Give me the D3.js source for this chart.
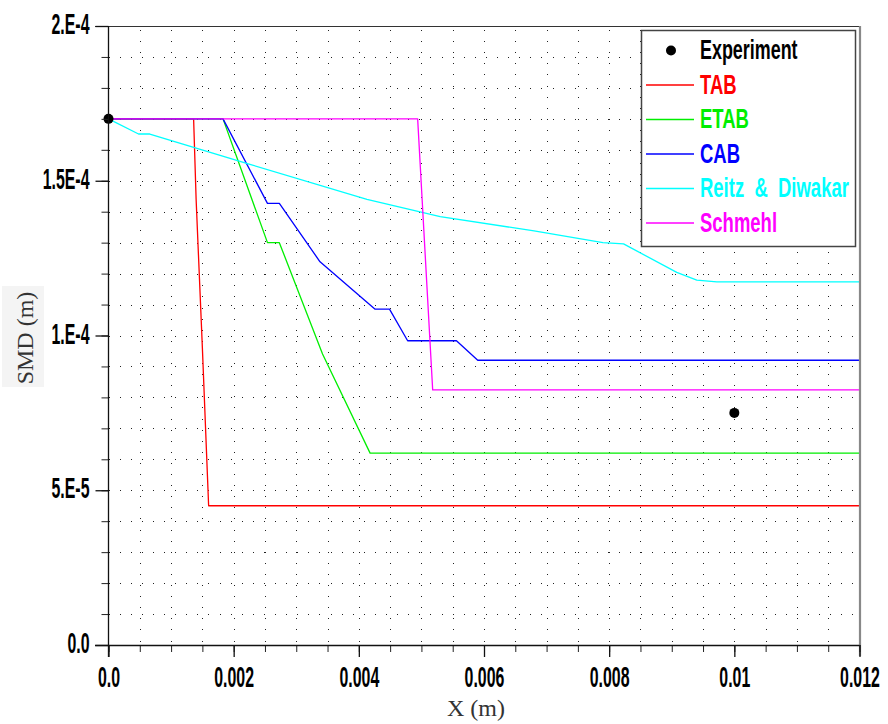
<!DOCTYPE html>
<html>
<head>
<meta charset="utf-8">
<script src="https://cdn.jsdelivr.net/npm/d3@7"></script>
<style>
  html, body { margin: 0; padding: 0; background: #fff; }
  svg { display: block; }
</style>
</head>
<body>
<svg id="chart" width="888" height="724"></svg>
<script>
// Axis ticks
const xMajor = [0, 0.002, 0.004, 0.006, 0.008, 0.01, 0.012];
const xTickLabels = ["0.0", "0.002", "0.004", "0.006", "0.008", "0.01", "0.012"];
const yMajor = [0, 5e-5, 1e-4, 1.5e-4, 2e-4];
const yTickLabels = ["0.0", "5.E-5", "1.E-4", "1.5E-4", "2.E-4"];
const xMinor = d3.range(0, 0.01201, 0.0005);
const yMinor = d3.range(0, 2.0001e-4, 1e-5);

// Measured droplet size
const experiment = [[0, 1.7e-4], [0.01, 7.5e-5]];

// Breakup model predictions: [X (m), SMD (m)]
const tab = [[0, 1.7e-4], [0.00136, 1.7e-4], [0.0014, 1.44e-4], [0.0015, 9.6e-5], [0.0016, 4.5e-5], [0.012, 4.5e-5]];
const etab = [[0, 1.7e-4], [0.00183, 1.7e-4], [0.00254, 1.3e-4], [0.00273, 1.3e-4], [0.00342, 9.4e-5], [0.00418, 6.2e-5], [0.012, 6.2e-5]];
const cab = [[0, 1.7e-4], [0.00183, 1.7e-4], [0.00254, 1.427e-4], [0.00273, 1.427e-4], [0.00338, 1.238e-4], [0.00426, 1.085e-4], [0.00449, 1.085e-4], [0.00478, 9.83e-5], [0.00556, 9.83e-5], [0.0059, 9.2e-5], [0.012, 9.2e-5]];
const reitz = [[0, 1.7e-4], [0.00048, 1.651e-4], [0.00066, 1.651e-4], [0.00226, 1.553e-4], [0.00413, 1.44e-4], [0.0053, 1.384e-4], [0.0068, 1.338e-4], [0.0079, 1.3e-4], [0.00823, 1.296e-4], [0.00908, 1.204e-4], [0.0094, 1.179e-4], [0.00972, 1.173e-4], [0.012, 1.173e-4]];
const schmehl = [[0, 1.7e-4], [0.00494, 1.7e-4], [0.00518, 8.24e-5], [0.012, 8.24e-5]];

const seriesNames = ["TAB", "ETAB", "CAB", "Reitz & Diwakar", "Schmehl"];
const seriesColors = ["#ff0000", "#00ee00", "#0000ff", "#00ffff", "#ff00ff"];
const seriesData = [tab, etab, cab, reitz, schmehl];

const svg = d3.select("#chart");
const plotLeft = 108.5, plotRight = 859.5, plotTop = 26, plotBottom = 645;

const x = d3.scaleLinear().domain([0, 0.012]).range([plotLeft, plotRight]);
const y = d3.scaleLinear().domain([0, 2e-4]).range([plotBottom, plotTop]);

svg.append("rect").attr("width", 888).attr("height", 724).attr("fill", "#fff");

// Dotted grid
const grid = svg.append("g").attr("stroke", "#222").attr("stroke-width", 1)
  .attr("stroke-dasharray", "1,10.1").attr("shape-rendering", "crispEdges");
grid.selectAll("line.h").data(yMinor.filter(v => v > 0 && v < 1.9999e-4)).join("line")
  .attr("class", "h")
  .attr("x1", plotLeft).attr("x2", plotRight - 2)
  .attr("y1", d => Math.round(y(d)) + 0.5).attr("y2", d => Math.round(y(d)) + 0.5);
grid.selectAll("line.v").data(xMinor.filter(v => v > 0 && v < 0.01199)).join("line")
  .attr("class", "v")
  .attr("y1", plotTop + 4).attr("y2", plotBottom)
  .attr("x1", d => Math.round(x(d)) + 0.5).attr("x2", d => Math.round(x(d)) + 0.5);

// Model curves
const line = d3.line().x(d => x(d[0])).y(d => y(d[1]));
svg.append("g").selectAll("path").data(seriesData).join("path")
  .attr("d", line)
  .attr("fill", "none")
  .attr("stroke", (d, i) => seriesColors[i])
  .attr("stroke-width", 1.3)
  .attr("stroke-linejoin", "round");

// Experimental points
svg.append("g").selectAll("circle").data(experiment).join("circle")
  .attr("cx", d => x(d[0])).attr("cy", d => y(d[1]))
  .attr("r", 5).attr("fill", "#000");

// Frame: top and right edges
svg.append("line").attr("x1", 95).attr("x2", plotRight + 1).attr("y1", plotTop + 0.5).attr("y2", plotTop + 0.5)
  .attr("stroke", "#333").attr("stroke-width", 1.2);
svg.append("line").attr("x1", plotRight + 0.5).attr("x2", plotRight + 0.5).attr("y1", plotTop).attr("y2", plotBottom + 11)
  .attr("stroke", "#888").attr("stroke-width", 2.2);

const labelFont = "'Liberation Sans', Arial, sans-serif";

// Minor ticks
svg.append("g").attr("transform", `translate(0,${plotBottom})`)
  .call(d3.axisBottom(x).tickValues(xMinor).tickSize(7).tickFormat(""))
  .call(g => g.select(".domain").remove())
  .selectAll("line").attr("stroke", "#222");
svg.append("g").attr("transform", `translate(${plotLeft},0)`)
  .call(d3.axisLeft(y).tickValues(yMinor).tickSize(7).tickFormat(""))
  .call(g => g.select(".domain").remove())
  .selectAll("line").attr("stroke", "#222");

// X axis
const xAxis = svg.append("g").attr("transform", `translate(0,${plotBottom})`)
  .call(d3.axisBottom(x).tickValues(xMajor).tickSize(12).tickSizeOuter(0)
    .tickFormat((d, i) => xTickLabels[i]));
xAxis.select(".domain").remove();
xAxis.selectAll("line").attr("stroke", "#111").attr("stroke-width", 1.3);
xAxis.selectAll("text")
  .attr("y", 21).attr("dy", "0.71em")
  .attr("transform", "scale(0.53,1)")
  .attr("font-family", labelFont).attr("font-weight", "bold")
  .attr("font-size", 30).attr("fill", "#000");
svg.append("line").attr("x1", 95).attr("x2", plotRight).attr("y1", plotBottom + 0.5).attr("y2", plotBottom + 0.5)
  .attr("stroke", "#111").attr("stroke-width", 1.3);

// Y axis
const yAxis = svg.append("g").attr("transform", `translate(${plotLeft},0)`)
  .call(d3.axisLeft(y).tickValues(yMajor).tickSize(13).tickSizeOuter(0)
    .tickFormat((d, i) => yTickLabels[i]));
yAxis.select(".domain").remove();
yAxis.selectAll("line").attr("stroke", "#111").attr("stroke-width", 1.3);
yAxis.selectAll("text")
  .attr("x", -19 / 0.53).attr("dy", "0.25em")
  .attr("transform", "scale(0.53,1)")
  .attr("font-family", labelFont).attr("font-weight", "bold")
  .attr("font-size", 30).attr("fill", "#000");
svg.append("line").attr("x1", plotLeft).attr("x2", plotLeft).attr("y1", plotTop).attr("y2", plotBottom + 12)
  .attr("stroke", "#111").attr("stroke-width", 1.3);

// Axis titles
svg.append("rect").attr("x", 2).attr("y", 286).attr("width", 42).attr("height", 101).attr("fill", "#f4f4f4");
svg.append("text")
  .attr("transform", "translate(33,338) rotate(-90)")
  .attr("text-anchor", "middle")
  .attr("font-family", "'Liberation Serif', 'Times New Roman', serif")
  .attr("font-size", 24).attr("fill", "#333")
  .text("SMD (m)");
svg.append("text")
  .attr("x", 476).attr("y", 716)
  .attr("text-anchor", "middle")
  .attr("font-family", "'Liberation Serif', 'Times New Roman', serif")
  .attr("font-size", 24).attr("fill", "#333")
  .text("X (m)");

// Legend
const legend = svg.append("g");
legend.append("rect").attr("x", 641.5).attr("y", 30.5).attr("width", 214).attr("height", 216)
  .attr("fill", "#fff").attr("stroke", "#444").attr("stroke-width", 1.5);
const rowY = i => 50.5 + i * 34.5;
legend.append("circle").attr("cx", 671).attr("cy", rowY(0)).attr("r", 5).attr("fill", "#000");
legend.append("text")
  .attr("transform", `translate(700,${rowY(0) + 8}) scale(0.64,1)`)
  .attr("font-family", labelFont).attr("font-weight", "bold").attr("font-size", 28)
  .attr("fill", "#000").text("Experiment");
const rows = legend.selectAll("g.row").data(seriesNames).join("g").attr("class", "row")
  .attr("transform", (d, i) => `translate(0,${rowY(i + 1)})`);
rows.append("line").attr("x1", 646).attr("x2", 694).attr("y1", 0).attr("y2", 0)
  .attr("stroke", (d, i) => seriesColors[i]).attr("stroke-width", 1.3);
rows.append("text")
  .attr("transform", "translate(700,8.5) scale(0.66,1)")
  .attr("font-family", labelFont).attr("font-weight", "bold").attr("font-size", 28)
  .attr("fill", (d, i) => seriesColors[i])
  .attr("xml:space", "preserve")
  .text(d => d.replace(" & ", "  &  "));
</script>
</body>
</html>
